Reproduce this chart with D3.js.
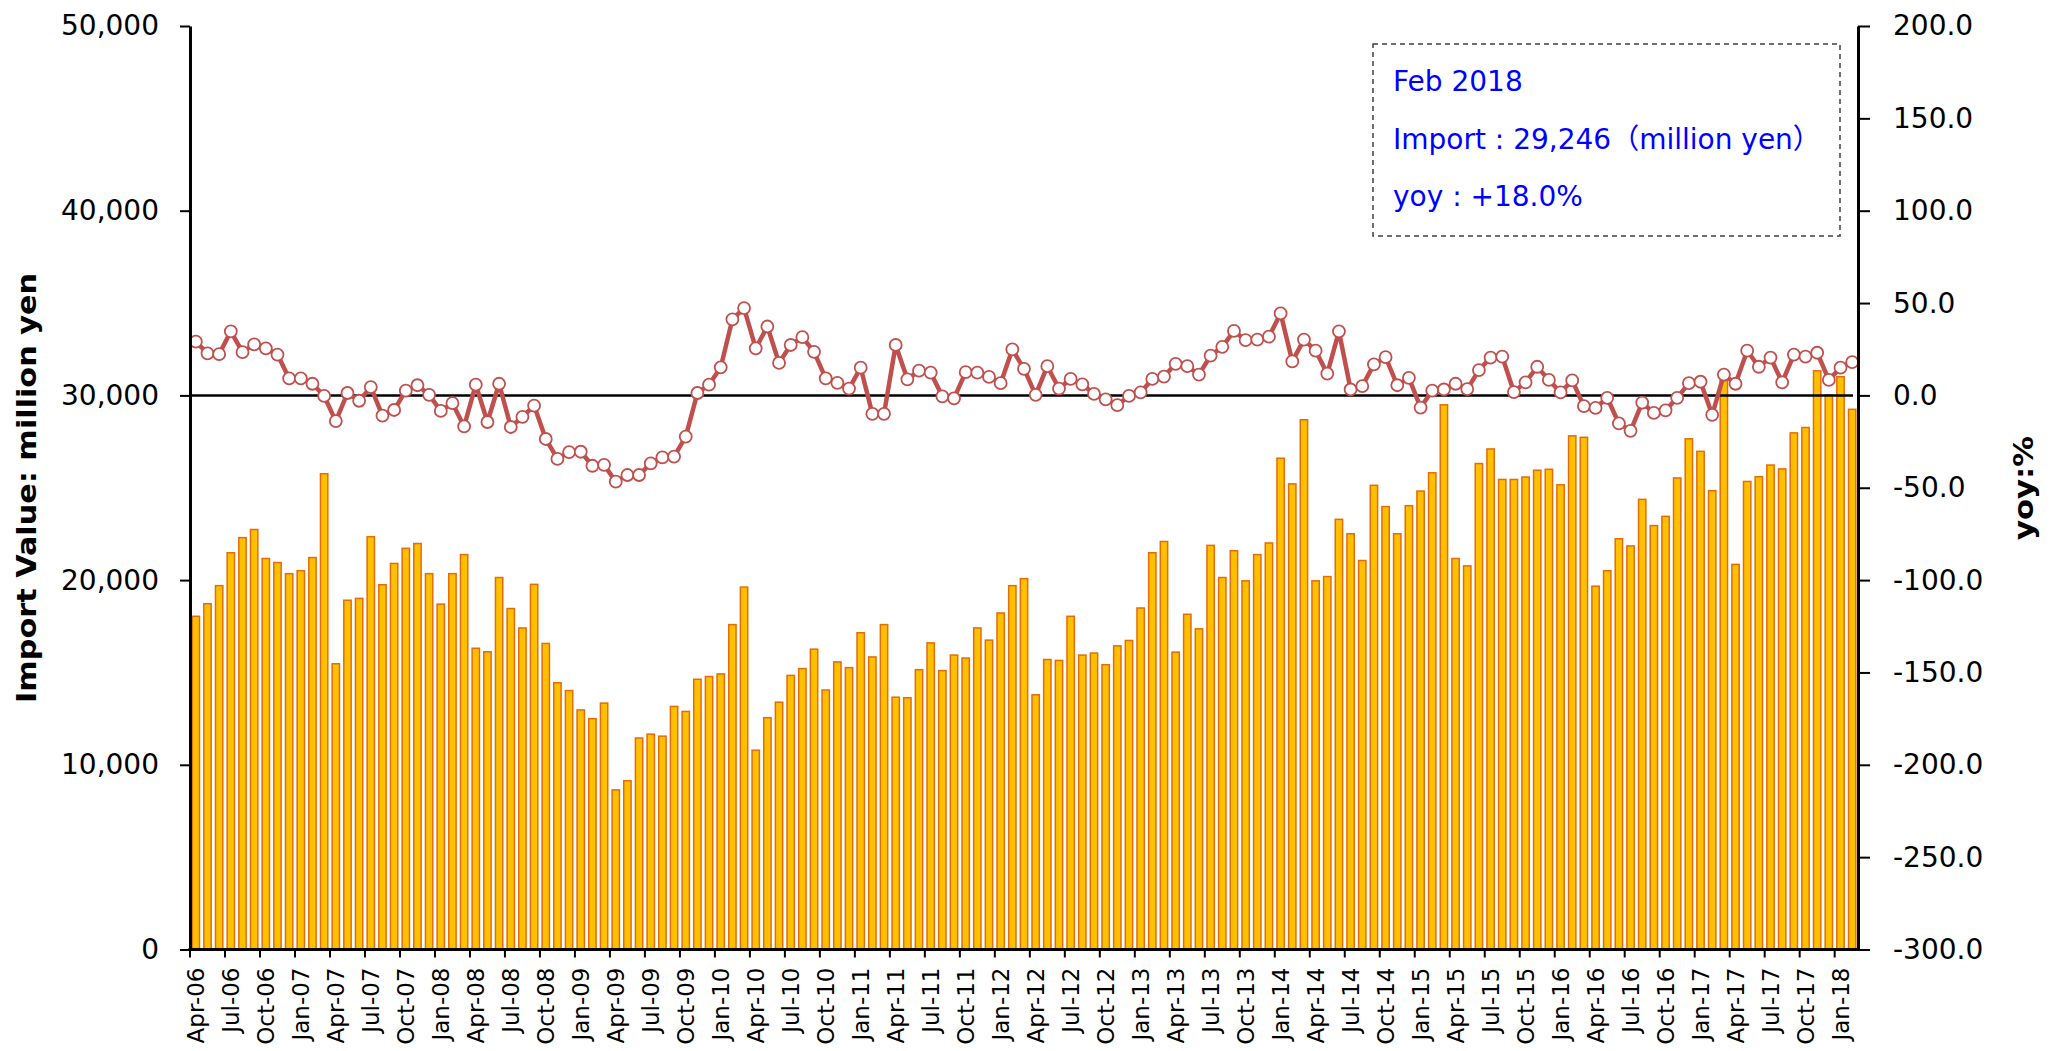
<!DOCTYPE html>
<html>
<head>
<meta charset="utf-8">
<script src="https://cdn.jsdelivr.net/npm/d3@7"></script>
<style>
  html, body { margin: 0; padding: 0; background: #fff; }
  svg { display: block; }
</style>
</head>
<body>
<svg id="chart" width="2062" height="1051"></svg>
<script>
// ---------------- DATA ----------------
// Monthly categories Apr-2006 .. Feb-2018
const categories = d3.timeMonth.range(new Date(2006, 3, 1), new Date(2018, 2, 1)).map(d3.timeFormat("%b-%y"));

// Import value (million yen)
const importValues = [
  18040, 18720, 19700, 21480, 22300, 22740, 21170, 20950, 20350, 20510, 21220, 25760,
  15470, 18910, 19010, 22350, 19750, 20900, 21720, 21980, 20350, 18700, 20350, 21380,
  16310, 16120, 20140, 18460, 17410, 19770, 16570, 14440, 14020, 12970, 12500, 13340,
  8640, 9140, 11450, 11660, 11550, 13160, 12890, 14630, 14780, 14920, 17590, 19620,
  10790, 12550, 13390, 14840, 15210, 16260, 14050, 15570, 15260, 17150, 15840, 17590,
  13660, 13630, 15150, 16600, 15100, 15940, 15780, 17410, 16750, 18220, 19700, 20080,
  13790, 15700, 15650, 18040, 15940, 16050, 15420, 16440, 16730, 18490, 21480, 22090,
  16100, 18150, 17360, 21880, 20140, 21590, 19960, 21380, 22010, 26600, 25210, 28680,
  19960, 20190, 23290, 22510, 21060, 25130, 23980, 22510, 24030, 24820, 25810, 29490,
  21170, 20770, 26310, 27100, 25450, 25450, 25580, 25950, 26000, 25160, 27810, 27730,
  19670, 20510, 22240, 21850, 24370, 22950, 23450, 25530, 27650, 26970, 24840, 30800,
  20850, 25340, 25600, 26230, 26020, 27970, 28260, 31330, 30020, 31010, 29246
];

// Year-on-year change (%)
const yoyValues = [
  29.1, 22.8, 22.3, 34.7, 23.4, 27.6, 25.5, 22.1, 9.2, 9.2, 6.3, -0.3,
  -13.9, 1.3, -2.9, 4.5, -11.0, -7.9, 2.6, 5.5, 0.3, -8.4, -4.2, -16.8,
  5.8, -14.4, 6.3, -17.1, -11.6, -5.5, -23.6, -34.4, -30.7, -30.5, -38.1, -37.6,
  -46.7, -43.1, -43.1, -36.8, -33.6, -33.1, -22.3, 1.3, 5.8, 15.2, 41.2, 47.3,
  25.5, 37.3, 17.6, 27.3, 31.5, 23.6, 9.2, 6.8, 3.7, 15.0, -10.0, -10.0,
  27.3, 8.7, 13.4, 12.3, -0.5, -1.6, 12.6, 12.3, 10.0, 6.6, 24.9, 14.4,
  0.3, 15.8, 3.7, 8.9, 6.0, 0.8, -2.1, -5.3, -0.3, 1.6, 8.9, 10.2,
  17.1, 15.8, 11.3, 21.5, 26.3, 34.9, 29.9, 30.2, 31.8, 44.4, 18.4, 30.2,
  24.2, 11.8, 34.7, 3.2, 5.0, 16.8, 20.7, 5.5, 9.5, -6.6, 2.6, 3.2,
  6.3, 3.4, 13.7, 20.5, 21.0, 1.8, 7.1, 15.5, 8.4, 1.6, 8.1, -5.8,
  -6.8, -1.3, -15.2, -19.2, -3.9, -9.5, -8.1, -1.3, 6.6, 7.4, -10.5, 11.3,
  6.3, 24.2, 15.5, 20.5, 7.1, 22.1, 21.0, 23.1, 8.4, 15.0, 18.0
];

const leftTicks = [0, 10000, 20000, 30000, 40000, 50000];
const rightTicks = [-300, -250, -200, -150, -100, -50, 0, 50, 100, 150, 200];
const xTickLabels = categories.filter((d, i) => i % 3 === 0);

const leftTitle = "Import Value: million yen";
const rightTitle = "yoy:%";
const noteLines = ["Feb 2018", "Import : 29,246（million yen）", "yoy : +18.0%"];

// ---------------- LAYOUT ----------------
const plotLeft = 190, plotRight = 1858, plotTop = 26, plotBottom = 949.5;
const svg = d3.select("#chart");
const numFont = "'DejaVu Sans', Verdana, sans-serif";

const x = d3.scaleBand().domain(categories).range([plotLeft, plotRight])
  .paddingInner(0.37).paddingOuter(0.185);
const yL = d3.scaleLinear().domain([0, 50000]).range([plotBottom, plotTop]);
const yR = d3.scaleLinear().domain([-300, 200]).range([plotBottom, plotTop]);

const loc = d3.formatLocale({decimal: ".", thousands: ",", grouping: [3], currency: ["", ""], minus: "-"});
const fmtL = loc.format(",");
const fmtR = loc.format(".1f");

const data = categories.map((c, i) => ({c, v: importValues[i], y: yoyValues[i]}));

// Bars
svg.append("g").selectAll("rect").data(data).join("rect")
  .attr("x", d => x(d.c))
  .attr("width", x.bandwidth())
  .attr("y", d => yL(d.v))
  .attr("height", d => plotBottom - yL(d.v))
  .attr("fill", "#FFC000")
  .attr("stroke", "#E46C0A")
  .attr("stroke-width", 1.5);

// zero line of yoy
svg.append("line")
  .attr("x1", plotLeft).attr("x2", plotRight - 5)
  .attr("y1", yR(0)).attr("y2", yR(0))
  .attr("stroke", "#000").attr("stroke-width", 2.5);

// yoy line
const cx = d => x(d.c) + x.bandwidth() / 2;
svg.append("path").datum(data)
  .attr("fill", "none")
  .attr("stroke", "#C0504D")
  .attr("stroke-width", 4.5)
  .attr("stroke-linejoin", "round")
  .attr("d", d3.line().x(cx).y(d => yR(d.y)));

svg.append("g").selectAll("circle").data(data).join("circle")
  .attr("cx", cx).attr("cy", d => yR(d.y)).attr("r", 6)
  .attr("fill", "#fff").attr("stroke", "#C0504D").attr("stroke-width", 1.8);

// Left axis
const gL = svg.append("g").attr("transform", `translate(${plotLeft},0)`)
  .call(d3.axisLeft(yL).tickValues(leftTicks).tickFormat(fmtL).tickSize(10).tickSizeOuter(0).tickPadding(21));
// Right axis
const gR = svg.append("g").attr("transform", `translate(${plotRight},0)`)
  .call(d3.axisRight(yR).tickValues(rightTicks).tickFormat(fmtR).tickSize(12).tickSizeOuter(0).tickPadding(23));
[gL, gR].forEach(g => {
  g.select(".domain").attr("stroke", "#000").attr("stroke-width", 3);
  g.selectAll(".tick line").attr("stroke", "#000").attr("stroke-width", 2);
  g.selectAll(".tick text").attr("font-family", numFont).attr("font-size", 28).attr("fill", "#000");
});

// Bottom axis (ticks at band boundaries, labels at band centres)
const step = x.step();
const gB = svg.append("g");
gB.append("line").attr("x1", plotLeft - 1.5).attr("x2", plotRight + 1.5)
  .attr("y1", plotBottom).attr("y2", plotBottom)
  .attr("stroke", "#000").attr("stroke-width", 3);
gB.selectAll("line.t").data(xTickLabels).join("line").attr("class", "t")
  .attr("x1", d => x(d) - (step - x.bandwidth()) / 2)
  .attr("x2", d => x(d) - (step - x.bandwidth()) / 2)
  .attr("y1", plotBottom).attr("y2", plotBottom + 8)
  .attr("stroke", "#000").attr("stroke-width", 2);
gB.selectAll("text").data(xTickLabels).join("text")
  .attr("transform", d => `translate(${x(d) + x.bandwidth() / 2},${plotBottom + 18}) rotate(-90)`)
  .attr("text-anchor", "end")
  .attr("dy", "0.35em")
  .attr("font-family", numFont)
  .attr("font-size", 23)
  .attr("fill", "#000")
  .text(d => d);

// Axis titles
svg.append("text")
  .attr("transform", `translate(36,488) rotate(-90)`)
  .attr("text-anchor", "middle")
  .attr("font-family", numFont).attr("font-weight", "bold").attr("font-size", 27)
  .attr("textLength", 430).attr("lengthAdjust", "spacingAndGlyphs")
  .text(leftTitle);
svg.append("text")
  .attr("transform", `translate(2033,488) rotate(-90)`)
  .attr("text-anchor", "middle")
  .attr("font-family", numFont).attr("font-weight", "bold").attr("font-size", 27)
  .attr("textLength", 104).attr("lengthAdjust", "spacingAndGlyphs")
  .text(rightTitle);

// Annotation box
svg.append("rect")
  .attr("x", 1373).attr("y", 44).attr("width", 467).attr("height", 192)
  .attr("fill", "#fff").attr("stroke", "#404040").attr("stroke-width", 1.5)
  .attr("stroke-dasharray", "5,4");
svg.append("g").selectAll("text").data(noteLines).join("text")
  .attr("x", 1393)
  .attr("y", (d, i) => 91 + i * 57.5)
  .attr("font-family", numFont + ", 'Noto Sans CJK JP'")
  .attr("font-size", 28)
  .attr("fill", "#0000FF")
  .text(d => d);
</script>
</body>
</html>
